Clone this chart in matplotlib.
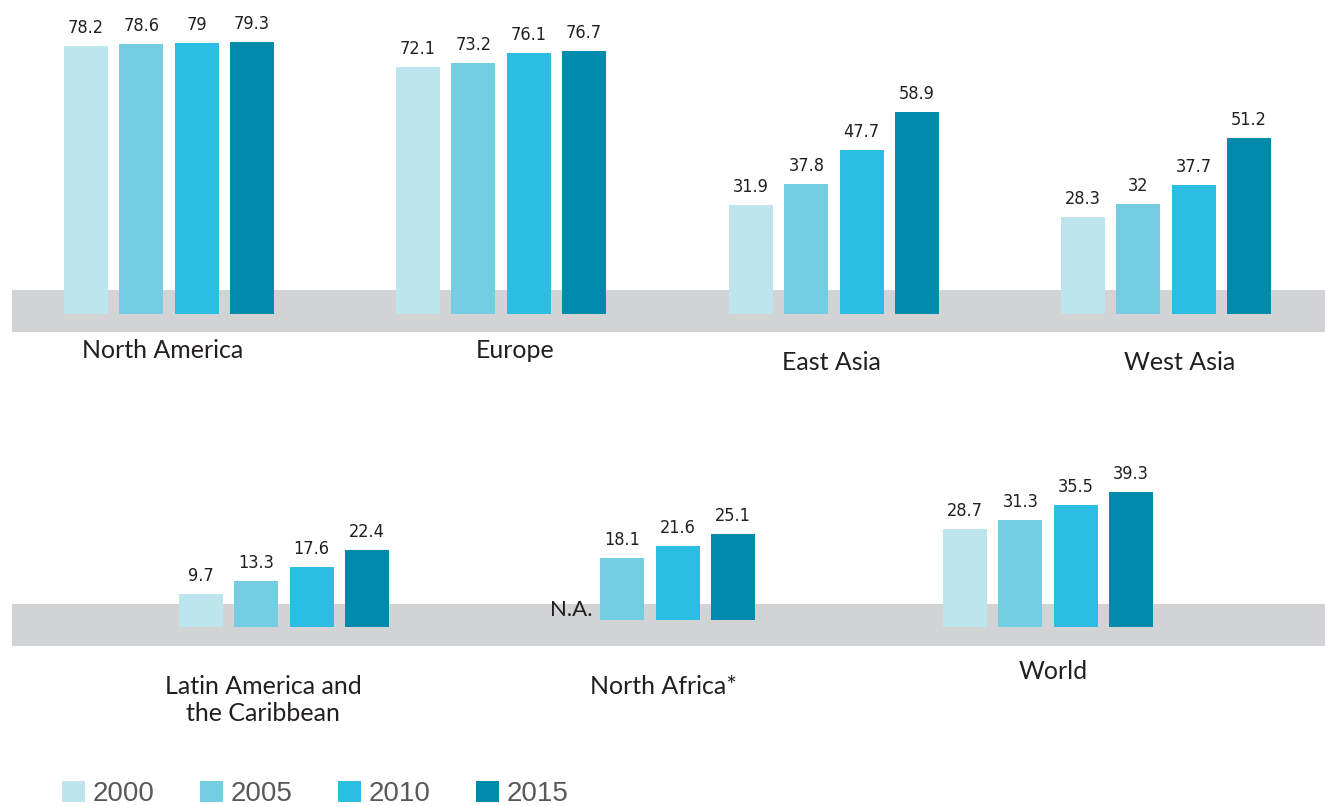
import matplotlib
matplotlib.use("Agg")
import matplotlib.pyplot as plt
from matplotlib import font_manager

# Data
years = ["2000", "2005", "2010", "2015"]
colors = ["#bde5ee", "#74cde0", "#2bbde2", "#008bad"]

top_regions = ["North America", "Europe", "East Asia", "West Asia"]
top_values = [
    [78.2, 78.6, 79, 79.3],
    [72.1, 73.2, 76.1, 76.7],
    [31.9, 37.8, 47.7, 58.9],
    [28.3, 32, 37.7, 51.2],
]

bottom_regions = ["Latin America and\nthe Caribbean", "North Africa*", "World"]
bottom_values = [
    [9.7, 13.3, 17.6, 22.4],
    [None, 18.1, 21.6, 25.1],
    [28.7, 31.3, 35.5, 39.3],
]

# Fonts
names = {f.name for f in font_manager.fontManager.ttflist}
label_font = "Lato" if "Lato" in names else "DejaVu Sans"

K = 3.43          # pixels per unit
W, H = 1325, 805
BAR_W = 44
STEP = 55.3

fig = plt.figure(figsize=(W / 100, H / 100), dpi=100)


def make_axes(top_px, bot_px, base_px):
    ax = fig.add_axes([0, 1 - bot_px / H, 1, (bot_px - top_px) / H])
    ax.set_xlim(0, W)
    ax.set_ylim(-(bot_px - base_px) / K, (base_px - top_px) / K)
    ax.axis("off")
    return ax


def draw_row(ax, centers, values, band, bases, with_legend=False):
    ax.axhspan(band[0], band[1], xmin=12 / W, xmax=1, color="#d1d3d4", zorder=0, lw=0)
    for c, vals, b in zip(centers, values, bases):
        for i, v in enumerate(vals):
            x = c + (i - 1.5) * STEP
            if v is None:
                ax.text(x + BAR_W / 2 + 3, b + 3, "N.A.", ha="right", va="center",
                        fontsize=16, family=label_font, color="#231f20")
                continue
            ax.bar(x, v, width=BAR_W, bottom=b, color=colors[i], zorder=2,
                   label=years[i] if with_legend and c == centers[0] else None)
            ax.text(x, b + v + 2.6, f"{v:g}", ha="center", va="bottom",
                    fontsize=13, family="DejaVu Sans", fontstretch="condensed",
                    color="#231f20")


# top row
ax1 = make_axes(0, 400, 314)
draw_row(ax1, [169, 501, 834, 1166], top_values, (-18 / K, 24 / K), [0, 0, 0, 0], True)
for name, x, y in zip(top_regions, [163, 515, 831, 1180], [351, 351, 362, 362]):
    fig.text(x / W, 1 - y / H, name, ha="center", va="center", fontsize=18,
             family=label_font, color="#231f20")

# bottom row
ax2 = make_axes(400, 805, 627)
draw_row(ax2, [284, 650, 1048], bottom_values, (-19 / K, 23 / K), [0, 7 / K, 0])
for name, x, y in zip(bottom_regions, [263, 663, 1053], [700, 686, 671]):
    fig.text(x / W, 1 - y / H, name, ha="center", va="center", fontsize=18,
             family=label_font, color="#231f20", linespacing=1.25)

# legend
handles, labels = ax1.get_legend_handles_labels()
leg = fig.legend(handles, labels, loc="lower left", bbox_to_anchor=(62 / W, -2 / H),
                 ncol=4, frameon=False, handlelength=0.82, handleheight=0.82,
                 handletextpad=0.3, columnspacing=1.62, borderpad=0, borderaxespad=0,
                 prop={"family": "Liberation Sans", "size": 20})
for t in leg.get_texts():
    t.set_color("#58595b")

fig.savefig("out.png", dpi=100)
